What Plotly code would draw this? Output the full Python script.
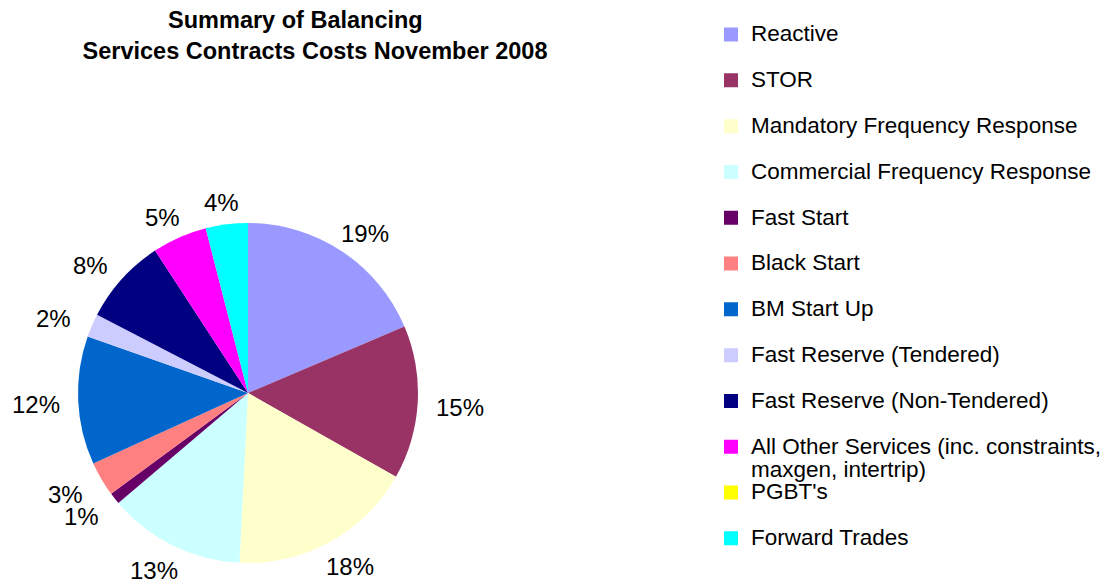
import math
import plotly.graph_objects as go

# ---- data ----
labels = [
    "Reactive",
    "STOR",
    "Mandatory Frequency Response",
    "Commercial Frequency Response",
    "Fast Start",
    "Black Start",
    "BM Start Up",
    "Fast Reserve (Tendered)",
    "Fast Reserve (Non-Tendered)",
    "All Other Services (inc. constraints,<br>maxgen, intertrip)",
    "PGBT's",
    "Forward Trades",
]
shares = [18.6, 14.6, 17.6, 13.0, 1.1, 3.3, 12.2, 2.2, 8.2, 5.2, 0.0, 4.0]
colors = [
    "#9999FF", "#993366", "#FFFFCC", "#CCFFFF", "#660066", "#FF8080",
    "#0066CC", "#CCCCFF", "#000080", "#FF00FF", "#FFFF00", "#00FFFF",
]
title_text = ("Summary of Balancing\u00a0\u00a0\u00a0\u00a0\u00a0\u00a0"
              "<br>Services Contracts Costs November 2008")

FONT = "Liberation Sans, Arial, Helvetica, sans-serif"
W, H = 1113, 586

# pie geometry (pixels)
cx, cy, r = 248, 393, 170
lab_rx, lab_ry, lab_dy = 212, 195, 3   # label distance from the centre

dom_x = [(cx - r) / W, (cx + r) / W]
dom_y = [(H - cy - r) / H, (H - cy + r) / H]

fig = go.Figure()
fig.add_trace(go.Pie(
    labels=labels,
    values=shares,
    marker=dict(colors=colors, line=dict(width=0)),
    sort=False,
    direction="clockwise",
    rotation=0,
    textinfo="none",
    showlegend=False,
    hoverinfo="label+percent",
    domain=dict(x=dom_x, y=dom_y),
))

# percentage labels placed around the pie from the data
total = sum(shares)
cum = 0.0
annotations = []
for v in shares:
    if v > 0:
        mid = (cum + v / 2) / total * 2 * math.pi
        annotations.append(dict(
            x=(dom_x[0] + dom_x[1]) / 2 + lab_rx * math.sin(mid) / W,
            y=(dom_y[0] + dom_y[1]) / 2 + (lab_ry * math.cos(mid) - lab_dy) / H,
            xref="paper", yref="paper",
            text=f"{round(v / total * 100):.0f}%",
            showarrow=False,
            xanchor="center", yanchor="middle",
            font=dict(family=FONT, size=24, color="black"),
        ))
    cum += v

# legend entries (one group per item)
LEG_SIZE = 22.5      # glyph size
LEG_LINE = 17.7      # base size -> line spacing of wrapped entries
n_main = 10
for i, (lab, col) in enumerate(zip(labels, colors)):
    fig.add_trace(go.Scatter(
        x=[None], y=[None], mode="markers",
        marker=dict(symbol="square", size=14, color=col, line=dict(width=0)),
        name="<br>".join(f'<span style="font-size:{LEG_SIZE}px">{part}</span>'
                         for part in lab.split("<br>")),
        legendgroup=f"g{i}",
        legend="legend" if i < n_main else "legend2",
        hoverinfo="skip",
    ))

leg_common = dict(
    font=dict(family=FONT, size=LEG_LINE, color="black"),
    bgcolor="rgba(0,0,0,0)",
    borderwidth=0,
    tracegroupgap=19.8,
    valign="top",
    xanchor="left",
    yanchor="top",
    itemclick=False,
    itemdoubleclick=False,
)

fig.update_layout(
    width=W, height=H,
    margin=dict(l=0, r=0, t=0, b=0),
    paper_bgcolor="white",
    plot_bgcolor="white",
    title=dict(
        text=title_text,
        x=315 / W, xanchor="center", xref="paper",
        y=1 - 28 / H, yanchor="top", yref="container",
        font=dict(family=FONT, size=23.5, color="black", weight="bold"),
    ),
    xaxis=dict(visible=False),
    yaxis=dict(visible=False),
    legend=dict(x=711 / W, y=1 - 16.5 / H, **leg_common),
    legend2=dict(x=711 / W, y=1 - 474.5 / H, **leg_common),
    annotations=annotations,
)

fig.write_html("out.html", config={"displayModeBar": False},
               post_script="document.body.style.margin='0px';")
